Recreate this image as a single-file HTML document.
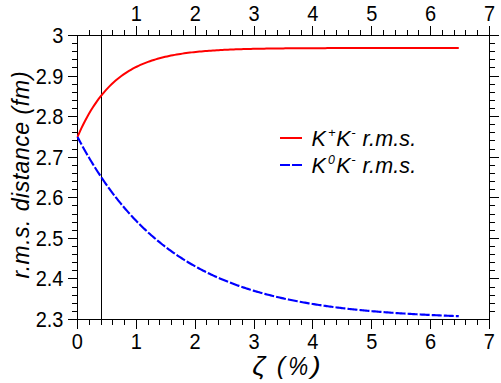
<!DOCTYPE html>
<html><head><meta charset="utf-8"><title>chart</title>
<style>
html,body{margin:0;padding:0;background:#fff;}
body{width:501px;height:383px;overflow:hidden;position:relative;font-family:"Liberation Sans",sans-serif;}
</style></head><body>
<svg width="501" height="383" viewBox="0 0 501 383" style="position:absolute;left:0;top:0">
<rect x="0" y="0" width="501" height="383" fill="#ffffff"/>
<g fill="#000" shape-rendering="crispEdges"><rect x="77" y="35" width="413" height="1"/><rect x="77" y="319" width="413" height="1"/><rect x="77" y="35" width="1" height="285"/><rect x="489" y="35" width="1" height="285"/><rect x="77" y="320" width="1" height="9"/><rect x="89" y="30" width="1" height="5"/><rect x="89" y="320" width="1" height="5"/><rect x="101" y="30" width="1" height="5"/><rect x="101" y="320" width="1" height="5"/><rect x="112" y="30" width="1" height="5"/><rect x="112" y="320" width="1" height="5"/><rect x="124" y="30" width="1" height="5"/><rect x="124" y="320" width="1" height="5"/><rect x="136" y="26" width="1" height="9"/><rect x="136" y="320" width="1" height="9"/><rect x="148" y="30" width="1" height="5"/><rect x="148" y="320" width="1" height="5"/><rect x="159" y="30" width="1" height="5"/><rect x="159" y="320" width="1" height="5"/><rect x="171" y="30" width="1" height="5"/><rect x="171" y="320" width="1" height="5"/><rect x="183" y="30" width="1" height="5"/><rect x="183" y="320" width="1" height="5"/><rect x="195" y="26" width="1" height="9"/><rect x="195" y="320" width="1" height="9"/><rect x="206" y="30" width="1" height="5"/><rect x="206" y="320" width="1" height="5"/><rect x="218" y="30" width="1" height="5"/><rect x="218" y="320" width="1" height="5"/><rect x="230" y="30" width="1" height="5"/><rect x="230" y="320" width="1" height="5"/><rect x="242" y="30" width="1" height="5"/><rect x="242" y="320" width="1" height="5"/><rect x="254" y="26" width="1" height="9"/><rect x="254" y="320" width="1" height="9"/><rect x="265" y="30" width="1" height="5"/><rect x="265" y="320" width="1" height="5"/><rect x="277" y="30" width="1" height="5"/><rect x="277" y="320" width="1" height="5"/><rect x="289" y="30" width="1" height="5"/><rect x="289" y="320" width="1" height="5"/><rect x="301" y="30" width="1" height="5"/><rect x="301" y="320" width="1" height="5"/><rect x="312" y="26" width="1" height="9"/><rect x="312" y="320" width="1" height="9"/><rect x="324" y="30" width="1" height="5"/><rect x="324" y="320" width="1" height="5"/><rect x="336" y="30" width="1" height="5"/><rect x="336" y="320" width="1" height="5"/><rect x="348" y="30" width="1" height="5"/><rect x="348" y="320" width="1" height="5"/><rect x="360" y="30" width="1" height="5"/><rect x="360" y="320" width="1" height="5"/><rect x="371" y="26" width="1" height="9"/><rect x="371" y="320" width="1" height="9"/><rect x="383" y="30" width="1" height="5"/><rect x="383" y="320" width="1" height="5"/><rect x="395" y="30" width="1" height="5"/><rect x="395" y="320" width="1" height="5"/><rect x="407" y="30" width="1" height="5"/><rect x="407" y="320" width="1" height="5"/><rect x="418" y="30" width="1" height="5"/><rect x="418" y="320" width="1" height="5"/><rect x="430" y="26" width="1" height="9"/><rect x="430" y="320" width="1" height="9"/><rect x="442" y="30" width="1" height="5"/><rect x="442" y="320" width="1" height="5"/><rect x="454" y="30" width="1" height="5"/><rect x="454" y="320" width="1" height="5"/><rect x="465" y="30" width="1" height="5"/><rect x="465" y="320" width="1" height="5"/><rect x="477" y="30" width="1" height="5"/><rect x="477" y="320" width="1" height="5"/><rect x="489" y="26" width="1" height="9"/><rect x="489" y="320" width="1" height="9"/><rect x="68" y="35" width="9" height="1"/><rect x="490" y="35" width="9" height="1"/><rect x="72" y="43" width="5" height="1"/><rect x="490" y="43" width="5" height="1"/><rect x="72" y="51" width="5" height="1"/><rect x="490" y="51" width="5" height="1"/><rect x="72" y="59" width="5" height="1"/><rect x="490" y="59" width="5" height="1"/><rect x="72" y="67" width="5" height="1"/><rect x="490" y="67" width="5" height="1"/><rect x="68" y="76" width="9" height="1"/><rect x="490" y="76" width="9" height="1"/><rect x="72" y="84" width="5" height="1"/><rect x="490" y="84" width="5" height="1"/><rect x="72" y="92" width="5" height="1"/><rect x="490" y="92" width="5" height="1"/><rect x="72" y="100" width="5" height="1"/><rect x="490" y="100" width="5" height="1"/><rect x="72" y="108" width="5" height="1"/><rect x="490" y="108" width="5" height="1"/><rect x="68" y="116" width="9" height="1"/><rect x="490" y="116" width="9" height="1"/><rect x="72" y="124" width="5" height="1"/><rect x="490" y="124" width="5" height="1"/><rect x="72" y="132" width="5" height="1"/><rect x="490" y="132" width="5" height="1"/><rect x="72" y="140" width="5" height="1"/><rect x="490" y="140" width="5" height="1"/><rect x="72" y="149" width="5" height="1"/><rect x="490" y="149" width="5" height="1"/><rect x="68" y="157" width="9" height="1"/><rect x="490" y="157" width="9" height="1"/><rect x="72" y="165" width="5" height="1"/><rect x="490" y="165" width="5" height="1"/><rect x="72" y="173" width="5" height="1"/><rect x="490" y="173" width="5" height="1"/><rect x="72" y="181" width="5" height="1"/><rect x="490" y="181" width="5" height="1"/><rect x="72" y="189" width="5" height="1"/><rect x="490" y="189" width="5" height="1"/><rect x="68" y="197" width="9" height="1"/><rect x="490" y="197" width="9" height="1"/><rect x="72" y="205" width="5" height="1"/><rect x="490" y="205" width="5" height="1"/><rect x="72" y="214" width="5" height="1"/><rect x="490" y="214" width="5" height="1"/><rect x="72" y="222" width="5" height="1"/><rect x="490" y="222" width="5" height="1"/><rect x="72" y="230" width="5" height="1"/><rect x="490" y="230" width="5" height="1"/><rect x="68" y="238" width="9" height="1"/><rect x="490" y="238" width="9" height="1"/><rect x="72" y="246" width="5" height="1"/><rect x="490" y="246" width="5" height="1"/><rect x="72" y="254" width="5" height="1"/><rect x="490" y="254" width="5" height="1"/><rect x="72" y="262" width="5" height="1"/><rect x="490" y="262" width="5" height="1"/><rect x="72" y="270" width="5" height="1"/><rect x="490" y="270" width="5" height="1"/><rect x="68" y="278" width="9" height="1"/><rect x="490" y="278" width="9" height="1"/><rect x="72" y="287" width="5" height="1"/><rect x="490" y="287" width="5" height="1"/><rect x="72" y="295" width="5" height="1"/><rect x="490" y="295" width="5" height="1"/><rect x="72" y="303" width="5" height="1"/><rect x="490" y="303" width="5" height="1"/><rect x="72" y="311" width="5" height="1"/><rect x="490" y="311" width="5" height="1"/><rect x="68" y="319" width="9" height="1"/><rect x="101" y="30" width="1" height="290"/></g>
<path d="M77.50 136.93 L79.41 132.57 L81.31 128.43 L83.22 124.49 L85.13 120.75 L87.03 117.19 L88.94 113.80 L90.84 110.58 L92.75 107.51 L94.66 104.60 L96.56 101.83 L98.47 99.19 L100.38 96.68 L102.28 94.30 L104.19 92.03 L106.10 89.88 L108.00 87.83 L109.91 85.88 L111.81 84.02 L113.72 82.26 L115.63 80.58 L117.53 78.98 L119.44 77.47 L121.35 76.02 L123.25 74.65 L125.16 73.35 L127.07 72.10 L128.97 70.92 L130.88 69.80 L132.79 68.73 L134.69 67.72 L136.60 66.75 L138.50 65.83 L140.41 64.96 L142.32 64.13 L144.22 63.34 L146.13 62.59 L148.04 61.87 L149.94 61.19 L151.85 60.55 L153.76 59.93 L155.66 59.35 L157.57 58.79 L159.47 58.26 L161.38 57.76 L163.29 57.28 L165.19 56.83 L167.10 56.40 L169.01 55.98 L170.91 55.59 L172.82 55.22 L174.73 54.87 L176.63 54.53 L178.54 54.21 L180.44 53.91 L182.35 53.62 L184.26 53.34 L186.16 53.08 L188.07 52.83 L189.98 52.59 L191.88 52.37 L193.79 52.16 L195.70 51.95 L197.60 51.76 L199.51 51.57 L201.41 51.40 L203.32 51.23 L205.23 51.07 L207.13 50.92 L209.04 50.78 L210.95 50.64 L212.85 50.51 L214.76 50.39 L216.67 50.27 L218.57 50.16 L220.48 50.06 L222.39 49.95 L224.29 49.86 L226.20 49.77 L228.10 49.68 L230.01 49.60 L231.92 49.52 L233.82 49.45 L235.73 49.37 L237.64 49.31 L239.54 49.24 L241.45 49.18 L243.36 49.12 L245.26 49.07 L247.17 49.02 L249.07 48.97 L250.98 48.92 L252.89 48.87 L254.79 48.83 L256.70 48.79 L258.61 48.75 L260.51 48.71 L262.42 48.68 L264.33 48.65 L266.23 48.61 L268.14 48.58 L270.04 48.55 L271.95 48.53 L273.86 48.50 L275.76 48.48 L277.67 48.45 L279.58 48.43 L281.48 48.41 L283.39 48.39 L285.30 48.37 L287.20 48.35 L289.11 48.33 L291.01 48.32 L292.92 48.30 L294.83 48.29 L296.73 48.27 L298.64 48.26 L300.55 48.25 L302.45 48.23 L304.36 48.22 L306.27 48.21 L308.17 48.20 L310.08 48.19 L311.99 48.18 L313.89 48.17 L315.80 48.16 L317.70 48.16 L319.61 48.15 L321.52 48.14 L323.42 48.13 L325.33 48.13 L327.24 48.12 L329.14 48.11 L331.05 48.11 L332.96 48.10 L334.86 48.10 L336.77 48.09 L338.67 48.09 L340.58 48.08 L342.49 48.08 L344.39 48.07 L346.30 48.07 L348.21 48.07 L350.11 48.06 L352.02 48.06 L353.93 48.06 L355.83 48.05 L357.74 48.05 L359.64 48.05 L361.55 48.05 L363.46 48.04 L365.36 48.04 L367.27 48.04 L369.18 48.04 L371.08 48.04 L372.99 48.03 L374.90 48.03 L376.80 48.03 L378.71 48.03 L380.61 48.03 L382.52 48.02 L384.43 48.02 L386.33 48.02 L388.24 48.02 L390.15 48.02 L392.05 48.02 L393.96 48.02 L395.87 48.02 L397.77 48.02 L399.68 48.01 L401.59 48.01 L403.49 48.01 L405.40 48.01 L407.30 48.01 L409.21 48.01 L411.12 48.01 L413.02 48.01 L414.93 48.01 L416.84 48.01 L418.74 48.01 L420.65 48.01 L422.56 48.01 L424.46 48.01 L426.37 48.01 L428.27 48.00 L430.18 48.00 L432.09 48.00 L433.99 48.00 L435.90 48.00 L437.81 48.00 L439.71 48.00 L441.62 48.00 L443.53 48.00 L445.43 48.00 L447.34 48.00 L449.24 48.00 L451.15 48.00 L453.06 48.00 L454.96 48.00 L456.87 48.00 L458.78 48.00" fill="none" stroke="#ff0000" stroke-width="2"/>
<path d="M77.50 136.93 L78.77 139.34 L80.04 141.73 L81.31 144.08 L82.58 146.40 L83.85 148.69 L85.13 150.95 L86.40 153.19 L87.67 155.39 L88.94 157.56 L90.21 159.70 L91.48 161.82 L92.75 163.90 L94.02 165.96 L95.29 168.00 L96.56 170.00 L97.83 171.98 L99.11 173.93 L100.38 175.86 L101.65 177.76 L102.92 179.63 L104.19 181.49 L105.46 183.31 L106.73 185.11 L108.00 186.89 L109.27 188.65 L110.54 190.38 L111.81 192.09 L113.09 193.78 L114.36 195.44 L115.63 197.08 L116.90 198.70 L118.17 200.30 L119.44 201.88 L120.71 203.43 L121.98 204.97 L123.25 206.49 L124.52 207.98 L125.80 209.46 L127.07 210.91 L128.34 212.35 L129.61 213.77 L130.88 215.17 L132.15 216.55 L133.42 217.91 L134.69 219.26 L135.96 220.58 L137.23 221.89 L138.50 223.18 L139.78 224.46 L141.05 225.72 L142.32 226.96 L143.59 228.18 L144.86 229.39 L146.13 230.58 L147.40 231.76 L148.67 232.92 L149.94 234.07 L151.21 235.20 L152.48 236.31 L153.76 237.41 L155.03 238.50 L156.30 239.57 L157.57 240.63 L158.84 241.67 L160.11 242.70 L161.38 243.72 L162.65 244.72 L163.92 245.71 L165.19 246.69 L166.46 247.65 L167.74 248.60 L169.01 249.54 L170.28 250.47 L171.55 251.38 L172.82 252.28 L174.09 253.17 L175.36 254.05 L176.63 254.92 L177.90 255.77 L179.17 256.62 L180.44 257.45 L181.72 258.27 L182.99 259.08 L184.26 259.88 L185.53 260.67 L186.80 261.45 L188.07 262.22 L189.34 262.97 L190.61 263.72 L191.88 264.46 L193.15 265.19 L194.42 265.91 L195.70 266.62 L196.97 267.32 L198.24 268.01 L199.51 268.69 L200.78 269.36 L202.05 270.02 L203.32 270.68 L204.59 271.33 L205.86 271.96 L207.13 272.59 L208.40 273.21 L209.68 273.83 L210.95 274.43 L212.22 275.03 L213.49 275.62 L214.76 276.20 L216.03 276.77 L217.30 277.33 L218.57 277.89 L219.84 278.44 L221.11 278.99 L222.39 279.52 L223.66 280.05 L224.93 280.57 L226.20 281.09 L227.47 281.60 L228.74 282.10 L230.01 282.59 L231.28 283.08 L232.55 283.56 L233.82 284.04 L235.09 284.51 L236.37 284.97 L237.64 285.43 L238.91 285.88 L240.18 286.33 L241.45 286.76 L242.72 287.20 L243.99 287.63 L245.26 288.05 L246.53 288.46 L247.80 288.87 L249.07 289.28 L250.35 289.68 L251.62 290.07 L252.89 290.46 L254.16 290.85 L255.43 291.23 L256.70 291.60 L257.97 291.97 L259.24 292.33 L260.51 292.69 L261.78 293.05 L263.05 293.40 L264.33 293.74 L265.60 294.09 L266.87 294.42 L268.14 294.75 L269.41 295.08 L270.68 295.40 L271.95 295.72 L273.22 296.04 L274.49 296.35 L275.76 296.65 L277.03 296.96 L278.31 297.26 L279.58 297.55 L280.85 297.84 L282.12 298.13 L283.39 298.41 L284.66 298.69 L285.93 298.96 L287.20 299.24 L288.47 299.50 L289.74 299.77 L291.01 300.03 L292.29 300.29 L293.56 300.54 L294.83 300.79 L296.10 301.04 L297.37 301.28 L298.64 301.53 L299.91 301.76 L301.18 302.00 L302.45 302.23 L303.72 302.46 L305.00 302.68 L306.27 302.91 L307.54 303.13 L308.81 303.34 L310.08 303.56 L311.35 303.77 L312.62 303.98 L313.89 304.18 L315.16 304.38 L316.43 304.58 L317.70 304.78 L318.98 304.98 L320.25 305.17 L321.52 305.36 L322.79 305.55 L324.06 305.73 L325.33 305.91 L326.60 306.09 L327.87 306.27 L329.14 306.45 L330.41 306.62 L331.68 306.79 L332.96 306.96 L334.23 307.12 L335.50 307.29 L336.77 307.45 L338.04 307.61 L339.31 307.76 L340.58 307.92 L341.85 308.07 L343.12 308.22 L344.39 308.37 L345.66 308.52 L346.94 308.67 L348.21 308.81 L349.48 308.95 L350.75 309.09 L352.02 309.23 L353.29 309.36 L354.56 309.50 L355.83 309.63 L357.10 309.76 L358.37 309.89 L359.64 310.02 L360.92 310.14 L362.19 310.27 L363.46 310.39 L364.73 310.51 L366.00 310.63 L367.27 310.75 L368.54 310.86 L369.81 310.98 L371.08 311.09 L372.35 311.20 L373.62 311.31 L374.90 311.42 L376.17 311.53 L377.44 311.63 L378.71 311.74 L379.98 311.84 L381.25 311.94 L382.52 312.04 L383.79 312.14 L385.06 312.24 L386.33 312.33 L387.60 312.43 L388.88 312.52 L390.15 312.61 L391.42 312.70 L392.69 312.79 L393.96 312.88 L395.23 312.97 L396.50 313.06 L397.77 313.14 L399.04 313.23 L400.31 313.31 L401.59 313.39 L402.86 313.47 L404.13 313.55 L405.40 313.63 L406.67 313.71 L407.94 313.78 L409.21 313.86 L410.48 313.94 L411.75 314.01 L413.02 314.08 L414.29 314.15 L415.57 314.22 L416.84 314.29 L418.11 314.36 L419.38 314.43 L420.65 314.50 L421.92 314.56 L423.19 314.63 L424.46 314.69 L425.73 314.76 L427.00 314.82 L428.27 314.88 L429.55 314.94 L430.82 315.00 L432.09 315.06 L433.36 315.12 L434.63 315.18 L435.90 315.24 L437.17 315.29 L438.44 315.35 L439.71 315.40 L440.98 315.46 L442.25 315.51 L443.53 315.56 L444.80 315.62 L446.07 315.67 L447.34 315.72 L448.61 315.77 L449.88 315.82 L451.15 315.87 L452.42 315.91 L453.69 315.96 L454.96 316.01 L456.23 316.06 L457.51 316.10 L458.78 316.15" fill="none" stroke="#0000ff" stroke-width="2.15" stroke-dasharray="10.0 2.07" stroke-dashoffset="1.3"/>
<rect x="280" y="137" width="22" height="2" fill="#ff0000" shape-rendering="crispEdges"/>
<rect x="280" y="164" width="10" height="2" fill="#0000ff" shape-rendering="crispEdges"/>
<rect x="292" y="164" width="10" height="2" fill="#0000ff" shape-rendering="crispEdges"/>
<g font-family="'Liberation Sans', sans-serif" fill="#000"><text transform="translate(77.4,349) scale(1,1.06)" text-anchor="middle" font-size="20">0</text><text transform="translate(136.4,21) scale(1,1.06)" text-anchor="middle" font-size="20">1</text><text transform="translate(136.3,349) scale(1,1.06)" text-anchor="middle" font-size="20">1</text><text transform="translate(195.2,21) scale(1,1.06)" text-anchor="middle" font-size="20">2</text><text transform="translate(195.1,349) scale(1,1.06)" text-anchor="middle" font-size="20">2</text><text transform="translate(254.1,21) scale(1,1.06)" text-anchor="middle" font-size="20">3</text><text transform="translate(254.0,349) scale(1,1.06)" text-anchor="middle" font-size="20">3</text><text transform="translate(312.9,21) scale(1,1.06)" text-anchor="middle" font-size="20">4</text><text transform="translate(312.8,349) scale(1,1.06)" text-anchor="middle" font-size="20">4</text><text transform="translate(371.8,21) scale(1,1.06)" text-anchor="middle" font-size="20">5</text><text transform="translate(371.7,349) scale(1,1.06)" text-anchor="middle" font-size="20">5</text><text transform="translate(430.6,21) scale(1,1.06)" text-anchor="middle" font-size="20">6</text><text transform="translate(430.5,349) scale(1,1.06)" text-anchor="middle" font-size="20">6</text><text transform="translate(489.5,21) scale(1,1.06)" text-anchor="middle" font-size="20">7</text><text transform="translate(489.4,349) scale(1,1.06)" text-anchor="middle" font-size="20">7</text><text transform="translate(63.5,43.0) scale(1,1.06)" text-anchor="end" font-size="20">3</text><text transform="translate(63.5,83.6) scale(1,1.06)" text-anchor="end" font-size="20">2.9</text><text transform="translate(63.5,124.1) scale(1,1.06)" text-anchor="end" font-size="20">2.8</text><text transform="translate(63.5,164.7) scale(1,1.06)" text-anchor="end" font-size="20">2.7</text><text transform="translate(63.5,205.3) scale(1,1.06)" text-anchor="end" font-size="20">2.6</text><text transform="translate(63.5,245.9) scale(1,1.06)" text-anchor="end" font-size="20">2.5</text><text transform="translate(63.5,286.4) scale(1,1.06)" text-anchor="end" font-size="20">2.4</text><text transform="translate(63.5,327.0) scale(1,1.06)" text-anchor="end" font-size="20">2.3</text><text y="145.8" font-size="21.5" font-style="italic"><tspan x="311.5">K</tspan><tspan x="328" font-size="13" dy="-8.4">+</tspan><tspan x="336.2" dy="8.4">K</tspan><tspan x="351.3" font-size="13" dy="-8.4">-</tspan><tspan x="362.5" dy="8.4" letter-spacing="0.15">r.m.s.</tspan></text><text y="172.7" font-size="21.5" font-style="italic"><tspan x="311.5">K</tspan><tspan x="328" font-size="12.3" dy="-8.4">0</tspan><tspan x="336.2" dy="8.4">K</tspan><tspan x="351.3" font-size="13" dy="-8.4">-</tspan><tspan x="362.5" dy="8.4" letter-spacing="0.15">r.m.s.</tspan></text><text transform="matrix(0.2823 0 0 0.2535 252.16 374.57)" font-size="100" font-style="italic">ζ</text><text transform="matrix(0.2482 0 0 0.2458 276.84 374.01)" font-size="100" font-style="italic">(</text><text transform="matrix(0.2245 0 0 0.2558 288.20 375.05)" font-size="100" font-style="italic">%</text><text transform="matrix(0.2914 0 0 0.2458 311.03 374.01)" font-size="100" font-style="italic">)</text><text transform="translate(28.5,278.5) rotate(-90)" font-size="23" font-style="italic" letter-spacing="0.44">r.m.s.</text><text transform="translate(28.5,211.2) rotate(-90)" font-size="23" font-style="italic" letter-spacing="0.50">distance</text><text transform="translate(28.5,114.6) rotate(-90)" font-size="23" font-style="italic" letter-spacing="0.80">(fm)</text></g>
</svg>
</body></html>
